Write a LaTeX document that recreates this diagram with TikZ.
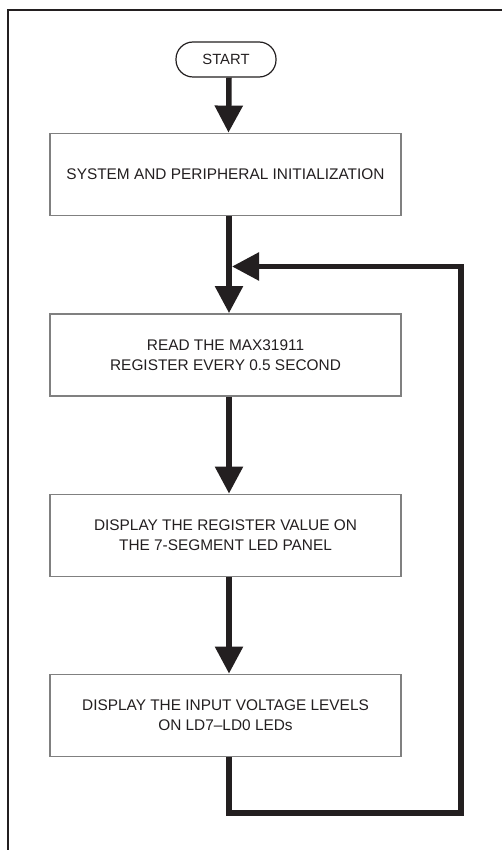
\documentclass[tikz,border=0pt]{standalone}
\usepackage{fontspec}
\setmainfont{Liberation Sans}
\usetikzlibrary{arrows.meta}
\definecolor{ink}{HTML}{231F20}
\definecolor{boxline}{HTML}{808080}
\begin{document}
\begin{tikzpicture}[x=1pt,y=-1pt,
  frame/.style={draw=ink,line width=1.3pt},
  terminal/.style={draw=ink,line width=1.2pt,rounded corners=17pt,minimum width=100pt,minimum height=35pt,inner sep=0pt,text=ink,font=\fontsize{14.8}{20}\selectfont},
  procbox/.style={draw=boxline,line width=1.8pt,minimum width=351pt,minimum height=82pt,inner sep=0pt,align=center,text=ink,font=\fontsize{15.4}{20}\selectfont},
  flow/.style={draw=ink,line width=5.5pt,line join=miter,-{Triangle[width=27pt,length=27pt]}}]
\useasboundingbox (0,0) rectangle (502,850);
\fill[white] (0,0) rectangle (502,850);
\draw[frame] (502,10) -- (8,10) -- (8,850);
\node[terminal] (start) at (226,59.5) {START};
\node[procbox] (b1) at (225.5,174.5) {SYSTEM AND PERIPHERAL INITIALIZATION};
\node[procbox] (b2) at (225.5,355) {READ THE MAX31911\\REGISTER EVERY 0.5 SECOND};
\node[procbox] (b3) at (225.5,535.5) {DISPLAY THE REGISTER VALUE ON\\THE 7-SEGMENT LED PANEL};
\node[procbox] (b4) at (225.5,715.5) {DISPLAY THE INPUT VOLTAGE LEVELS\\ON LD7--LD0 LEDs};
\coordinate (br) at (461,813);
\coordinate (tr) at (461,266.5);
\coordinate (tip) at (232,266.5);
\draw[flow] ([xshift=3pt]start.south) -- ([xshift=3pt]b1.north);
\draw[flow] ([xshift=3.5pt]b1.south) -- ([xshift=3.5pt]b2.north);
\draw[flow] ([xshift=3.5pt]b2.south) -- ([xshift=3.5pt]b3.north);
\draw[flow] ([xshift=3.5pt]b3.south) -- ([xshift=3.5pt]b4.north);
\draw[flow] ([xshift=3.5pt]b4.south) |- (br) -- (tr) -- (tip);
\end{tikzpicture}
\end{document}
